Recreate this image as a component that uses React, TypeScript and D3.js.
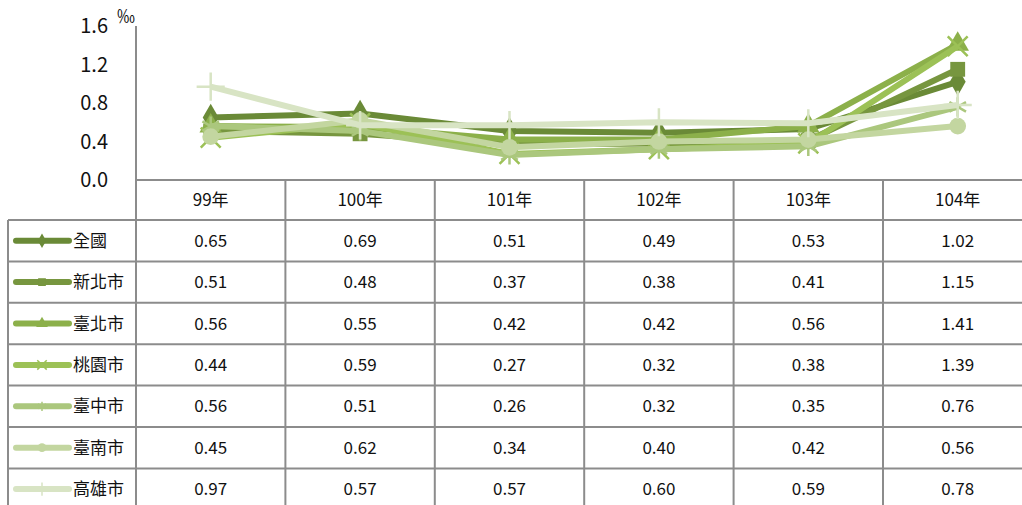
import * as d3 from 'd3';

const years = ['99年', '100年', '101年', '102年', '103年', '104年'];
const seriesNames = ['全國', '新北市', '臺北市', '桃園市', '臺中市', '臺南市', '高雄市'];
const national = [0.65, 0.69, 0.51, 0.49, 0.53, 1.02];
const newTaipei = [0.51, 0.48, 0.37, 0.38, 0.41, 1.15];
const taipei = [0.56, 0.55, 0.42, 0.42, 0.56, 1.41];
const taoyuan = [0.44, 0.59, 0.27, 0.32, 0.38, 1.39];
const taichung = [0.56, 0.51, 0.26, 0.32, 0.35, 0.76];
const tainan = [0.45, 0.62, 0.34, 0.40, 0.42, 0.56];
const kaohsiung = [0.97, 0.57, 0.57, 0.60, 0.59, 0.78];
const yTicks = [0, 0.4, 0.8, 1.2, 1.6];

const seriesValues = [national, newTaipei, taipei, taoyuan, taichung, tainan, kaohsiung];
const colors = ['#6a8a37', '#77963f', '#8cb04a', '#9cc156', '#abc77d', '#c3d6a0', '#d8e4c4'];
const symbols = [
  d3.symbolDiamond, d3.symbolSquare, d3.symbolTriangle, d3.symbolTimes,
  d3.symbolAsterisk, d3.symbolCircle, d3.symbolPlus,
];
const strokeSymbols = [false, false, false, true, true, false, true];

const W = 1022;
const H = 505;
const left = 136;
const tableLeft = 8;
const headerTop = 180;
const headerBottom = 220;
const rowH = 41.4;
const gridColor = '#8c8c8c';
const font = '"Noto Sans CJK TC", "Open Sans", sans-serif';

export default function App() {
  // last column is clipped by the page edge
  const x = d3.scaleBand<string>().domain(years).range([left, left + 6 * 149.4]);
  const y = d3.scaleLinear().domain([0, 1.6]).range([headerTop, 26]);
  const cx = (yr: string) => (x(yr) ?? 0) + x.bandwidth() / 2;
  const line = d3.line<number>()
    .x((_, i) => cx(years[i]))
    .y(d => y(d));

  const marker = (i: number, size: number) => d3.symbol().type(symbols[i]).size(size)()!;

  return (
    <svg width={W} height={H} style={{ position: 'absolute', left: 0, top: 0, fontFamily: font }}>
      {/* y tick labels */}
      {yTicks.map(t => (
        <text key={t} x={108} y={y(t)} dy="0.36em" textAnchor="end" fontSize={20} fill="#111">
          {t.toFixed(1)}
        </text>
      ))}
      <text x={117} y={23} fontSize={18} fill="#111">‰</text>

      {/* grid / table lines */}
      <line x1={left} x2={left} y1={26} y2={H} stroke={gridColor} strokeWidth={2} />
      <line x1={left} x2={W} y1={headerTop} y2={headerTop} stroke={gridColor} strokeWidth={2} />
      {years.slice(1).map(yr => (
        <line key={yr} x1={x(yr)} x2={x(yr)} y1={headerTop} y2={H} stroke={gridColor} strokeWidth={2} />
      ))}
      <line x1={tableLeft} x2={tableLeft} y1={headerBottom} y2={H} stroke={gridColor} strokeWidth={2} />
      {seriesNames.map((_, i) => (
        <line key={i} x1={tableLeft} x2={W} y1={headerBottom + i * rowH} y2={headerBottom + i * rowH}
          stroke={gridColor} strokeWidth={2} />
      ))}

      {/* header */}
      {years.map(yr => (
        <text key={yr} x={cx(yr)} y={(headerTop + headerBottom) / 2} dy="0.36em" textAnchor="middle"
          fontSize={17} fill="#111">{yr}</text>
      ))}

      {/* rows */}
      {seriesNames.map((name, i) => {
        const rowY = headerBottom + i * rowH + rowH / 2;
        return (
          <g key={name}>
            <line x1={16} x2={69} y1={rowY} y2={rowY} stroke={colors[i]} strokeWidth={6} strokeLinecap="round" />
            <path d={marker(i, 60)} transform={`translate(42,${rowY})`}
              fill={strokeSymbols[i] ? 'none' : colors[i]} stroke={colors[i]} strokeWidth={strokeSymbols[i] ? 1.5 : 0} />
            <text x={73} y={rowY} dy="0.36em" fontSize={17} fill="#111">{name}</text>
            {seriesValues[i].map((v, j) => (
              <text key={j} x={cx(years[j])} y={rowY} dy="0.36em" textAnchor="middle" fontSize={17} fill="#111">
                {v.toFixed(2)}
              </text>
            ))}
          </g>
        );
      })}

      {/* lines */}
      {seriesValues.map((vals, i) => (
        <g key={i}>
          <path d={line(vals)!} fill="none" stroke={colors[i]} strokeWidth={6} strokeLinejoin="round" />
          {vals.map((v, j) => (
            <path key={j} d={marker(i, strokeSymbols[i] ? 260 : 220)}
              transform={`translate(${cx(years[j])},${y(v)})`}
              fill={strokeSymbols[i] ? 'none' : colors[i]} stroke={colors[i]}
              strokeWidth={strokeSymbols[i] ? 2.5 : 0} />
          ))}
        </g>
      ))}
    </svg>
  );
}
